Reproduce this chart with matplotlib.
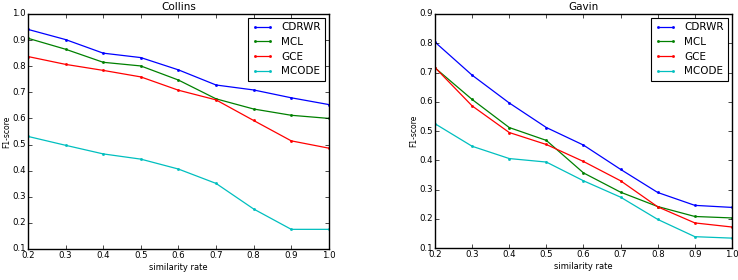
import matplotlib
matplotlib.use('Agg')
import matplotlib.pyplot as plt

plt.style.use('classic')

x = [0.2, 0.3, 0.4, 0.5, 0.6, 0.7, 0.8, 0.9, 1.0]
methods = ['CDRWR', 'MCL', 'GCE', 'MCODE']
colors = ['b', 'g', 'r', 'c']

collins_cdrwr = [0.941, 0.902, 0.850, 0.833, 0.786, 0.728, 0.709, 0.679, 0.653]
collins_mcl = [0.907, 0.865, 0.815, 0.801, 0.747, 0.675, 0.636, 0.612, 0.600]
collins_gce = [0.837, 0.807, 0.784, 0.759, 0.708, 0.671, 0.592, 0.514, 0.486]
collins_mcode = [0.531, 0.497, 0.464, 0.444, 0.406, 0.351, 0.253, 0.175, 0.175]

gavin_cdrwr = [0.804, 0.691, 0.596, 0.512, 0.452, 0.369, 0.290, 0.246, 0.239]
gavin_mcl = [0.716, 0.608, 0.512, 0.468, 0.357, 0.291, 0.242, 0.208, 0.203]
gavin_gce = [0.717, 0.586, 0.495, 0.454, 0.396, 0.330, 0.241, 0.186, 0.172]
gavin_mcode = [0.525, 0.448, 0.406, 0.394, 0.330, 0.274, 0.198, 0.139, 0.134]

fig = plt.figure(figsize=(7.38, 2.8), dpi=100, facecolor='white')
ax1 = fig.add_axes([0.0379, 0.111, 0.4077, 0.839])
ax2 = fig.add_axes([0.5894, 0.114, 0.4024, 0.836])


def draw(ax, title, series, ylim):
    for vals, name, c in zip(series, methods, colors):
        ax.plot(x, vals, color=c, marker='.', markersize=3, linewidth=0.9, label=name)
    ax.set_xlim(0.2, 1.0)
    ax.set_ylim(*ylim)
    ax.set_title(title, fontsize=7.5, pad=3)
    ax.set_xlabel('similarity rate', fontsize=6, labelpad=2)
    ax.set_ylabel('F1-score', fontsize=5.5, labelpad=1)
    ax.tick_params(labelsize=6.2, pad=1.5, length=3)
    leg = ax.legend(loc='upper right', fontsize=7.5, handlelength=2.0,
                    borderaxespad=0.4, labelspacing=0.45, fancybox=False)
    leg.get_frame().set_linewidth(0.8)


draw(ax1, 'Collins', [collins_cdrwr, collins_mcl, collins_gce, collins_mcode], (0.1, 1.0))
draw(ax2, 'Gavin', [gavin_cdrwr, gavin_mcl, gavin_gce, gavin_mcode], (0.1, 0.9))
ax1.yaxis.set_label_coords(-0.056, 0.5)

fig.savefig('out.png', dpi=100, facecolor='white')
